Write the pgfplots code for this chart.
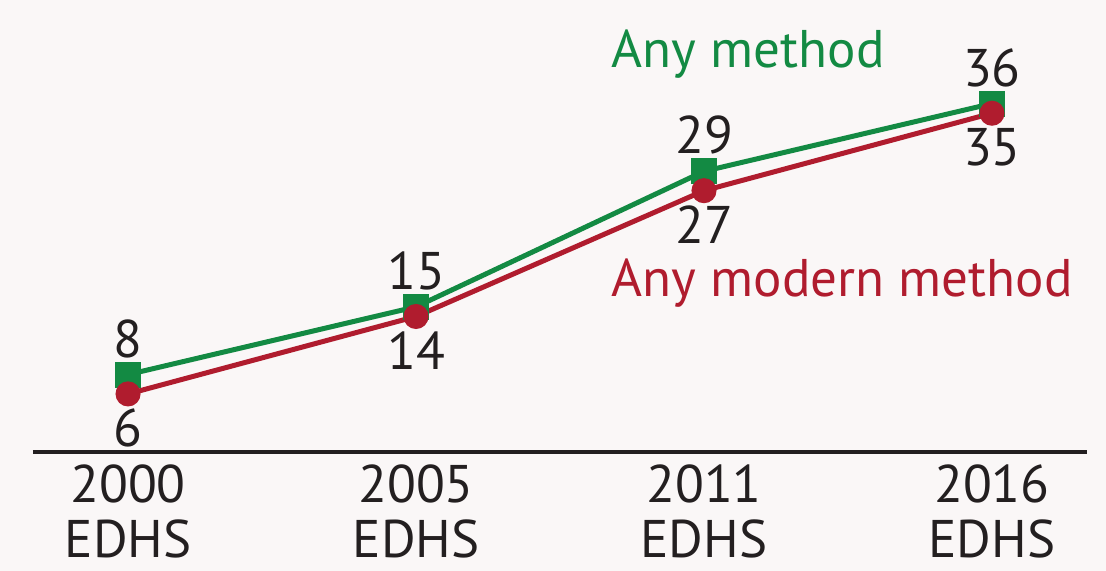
\documentclass[border=0pt]{standalone}
\usepackage{pgfplots}
\pgfplotsset{compat=1.18}
\usepackage{fontspec}
\setmainfont{PT Sans}
\definecolor{bg}{HTML}{FAF7F7}
\definecolor{txt}{HTML}{231F20}
\definecolor{gr}{HTML}{138A43}
\definecolor{rd}{HTML}{B01C2E}
\begin{document}
\begin{tikzpicture}
\useasboundingbox (-16.5pt,-59.5pt) rectangle (536.5pt,226pt);
\fill[bg] (-16.5pt,-59.5pt) rectangle (536.5pt,226pt);
\begin{axis}[
  at={(0,0)}, anchor=south west,
  scale only axis, width=527pt, height=226pt,
  xmin=-0.33, xmax=3.33, ymin=0, ymax=46.7,
  axis x line=bottom, axis y line=none,
  axis line style={-, line width=2.3pt, color=txt},
  xtick=data, xticklabels={{2000\\EDHS},{2005\\EDHS},{2011\\EDHS},{2016\\EDHS}},
  major tick length=0pt,
  xticklabel style={font=\fontsize{26.5}{27.5}\selectfont, align=center, text=txt, yshift=-3pt},
  clip=false,
  /pgf/number format/assume math mode=true,
  nodes near coords,
  every node near coord/.append style={font=\fontsize{26.5}{28}\selectfont, text=txt, anchor=center},
]
\addplot[gr, line width=2.5pt, mark=square*, mark size=5.25pt, mark options={solid},
  every node near coord/.append style={yshift=18pt}]
  coordinates {(0,8) (1,15) (2,29) (3,36)};
\addplot[rd, line width=2.5pt, mark=*, mark size=5pt, mark options={solid},
  every node near coord/.append style={yshift=-17pt}]
  coordinates {(0,6) (1,14) (2,27) (3,35)};
\node[anchor=base west, text=gr, font=\fontsize{26.5}{28}\selectfont, inner sep=0pt] at (axis cs:1.679,39.77) {Any method};
\node[anchor=base west, text=rd, font=\fontsize{26.5}{28}\selectfont, inner sep=0pt] at (axis cs:1.679,16.1) {Any modern method};
\end{axis}
\end{tikzpicture}
\end{document}
